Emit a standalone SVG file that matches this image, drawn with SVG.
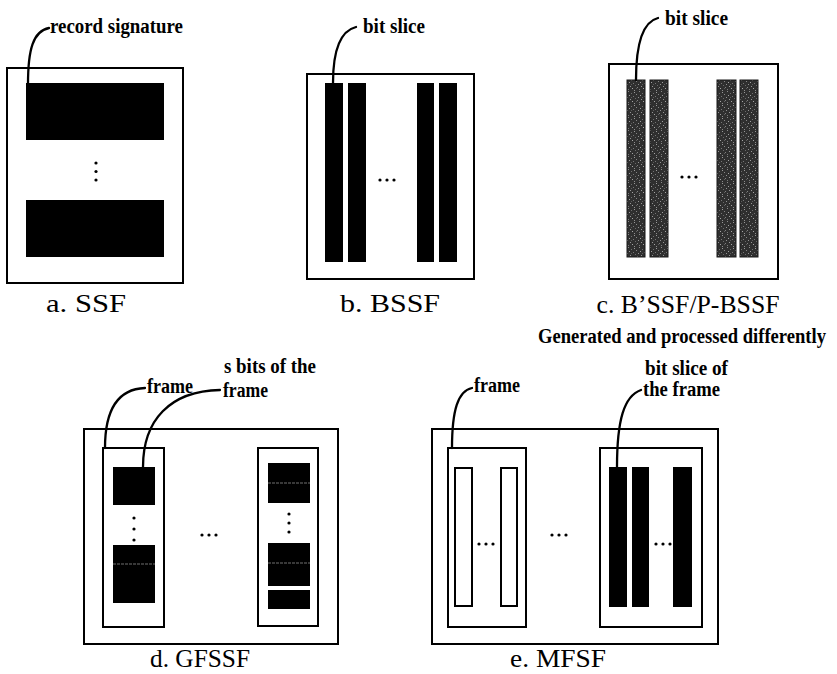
<svg xmlns="http://www.w3.org/2000/svg" width="837" height="674" viewBox="0 0 837 674">
  <style>
    .box { fill: #fff; stroke: #000; stroke-width: 2; }
    .bar { fill: #000; }
    .grey { fill: url(#grain); stroke: #1a1a1a; stroke-width: 1; }
    .hollow { fill: #fff; stroke: #000; stroke-width: 2; }
    .seam { stroke: #bdbdbd; stroke-width: 0.6; stroke-dasharray: 3 1; }
    .dot { fill: #000; }
    .cap { font-family: "Liberation Serif", "Times New Roman", serif; font-size: 26px; fill: #000; text-anchor: middle; }
    .note { font-family: "Liberation Serif", "Times New Roman", serif; font-size: 20px; font-weight: bold; fill: #000; }
    .lead { fill: none; stroke: #000; stroke-width: 2.3; stroke-linecap: round; }
  </style>
  <defs>
    <!-- fine speckled grey for the differently generated slices -->
    <pattern id="grain" width="11" height="13" patternUnits="userSpaceOnUse">
      <rect width="11" height="13" fill="#2f2f2f"/>
      <rect x="1" y="0" width="1" height="1" fill="#8a8a8a"/>
      <rect x="7" y="1" width="1" height="1" fill="#9a9a9a"/>
      <rect x="4" y="2" width="1" height="1" fill="#6f6f6f"/>
      <rect x="9" y="3" width="1" height="1" fill="#858585"/>
      <rect x="2" y="4" width="1" height="1" fill="#a0a0a0"/>
      <rect x="6" y="5" width="1" height="1" fill="#777"/>
      <rect x="0" y="6" width="1" height="1" fill="#909090"/>
      <rect x="8" y="7" width="1" height="1" fill="#6a6a6a"/>
      <rect x="3" y="8" width="1" height="1" fill="#959595"/>
      <rect x="10" y="9" width="1" height="1" fill="#808080"/>
      <rect x="5" y="10" width="1" height="1" fill="#a5a5a5"/>
      <rect x="1" y="11" width="1" height="1" fill="#7a7a7a"/>
      <rect x="7" y="12" width="1" height="1" fill="#8c8c8c"/>
      <rect x="9" y="10" width="1" height="1" fill="#5f5f5f"/>
      <rect x="4" y="6" width="1" height="1" fill="#5c5c5c"/>
    </pattern>
  </defs>

  <rect width="837" height="674" fill="#fff"/>

  <!-- a. sequential signature file -->
  <g id="ssf">
    <rect class="box" x="7" y="68" width="176" height="215"/>
    <rect class="bar" x="26" y="83" width="138" height="57"/>
    <rect class="bar" x="26" y="200" width="138" height="57"/>
    <circle class="dot" cx="96" cy="163" r="1.6"/>
    <circle class="dot" cx="96" cy="171.5" r="1.6"/>
    <circle class="dot" cx="96" cy="180" r="1.6"/>
    <text class="note" x="50" y="33" textLength="133" lengthAdjust="spacingAndGlyphs">record signature</text>
    <text class="cap" x="86" y="312" textLength="80" lengthAdjust="spacingAndGlyphs">a. SSF</text>
  </g>

  <!-- b. bit-sliced signature file -->
  <g id="bssf">
    <rect class="box" x="307" y="74" width="167" height="205"/>
    <rect class="bar" x="325" y="83" width="18" height="179"/>
    <rect class="bar" x="348" y="83" width="18" height="179"/>
    <rect class="bar" x="417" y="83" width="17" height="179"/>
    <rect class="bar" x="439" y="83" width="18" height="179"/>
    <circle class="dot" cx="380" cy="180" r="1.6"/>
    <circle class="dot" cx="387" cy="180" r="1.6"/>
    <circle class="dot" cx="394" cy="180" r="1.6"/>
    <text class="note" x="363" y="33" textLength="62" lengthAdjust="spacingAndGlyphs">bit slice</text>
    <text class="cap" x="390" y="312" textLength="100" lengthAdjust="spacingAndGlyphs">b. BSSF</text>
  </g>

  <!-- c. B'SSF / P-BSSF -->
  <g id="pbssf">
    <rect class="box" x="609" y="64" width="169" height="215"/>
    <rect class="grey" x="627" y="80" width="18" height="177"/>
    <rect class="grey" x="650" y="80" width="18" height="177"/>
    <rect class="grey" x="717" y="80" width="19" height="177"/>
    <rect class="grey" x="740" y="80" width="18" height="177"/>
    <circle class="dot" cx="682" cy="177" r="1.6"/>
    <circle class="dot" cx="689" cy="177" r="1.6"/>
    <circle class="dot" cx="696" cy="177" r="1.6"/>
    <text class="note" x="665" y="25" textLength="63" lengthAdjust="spacingAndGlyphs">bit slice</text>
    <text class="cap" x="688" y="313" textLength="183" lengthAdjust="spacingAndGlyphs">c. B’SSF/P-BSSF</text>
    <text class="note" x="538" y="343" font-size="18" textLength="288" lengthAdjust="spacingAndGlyphs">Generated and processed differently</text>
  </g>

  <!-- d. generalized frame-sliced signature file -->
  <g id="gfssf">
    <rect class="box" x="84" y="429" width="254" height="215"/>
    <rect class="box" x="103" y="448" width="61" height="179"/>
    <rect class="bar" x="113" y="467" width="42" height="38"/>
    <rect class="bar" x="113" y="545" width="42" height="58"/>
    <line class="seam" x1="113" y1="564" x2="155" y2="564"/>
    <circle class="dot" cx="134" cy="518" r="1.6"/>
    <circle class="dot" cx="134" cy="529" r="1.6"/>
    <circle class="dot" cx="134" cy="540" r="1.6"/>
    <circle class="dot" cx="202" cy="535" r="1.6"/>
    <circle class="dot" cx="209" cy="535" r="1.6"/>
    <circle class="dot" cx="216" cy="535" r="1.6"/>
    <rect class="box" x="258" y="448" width="60" height="178"/>
    <rect class="bar" x="268" y="463" width="42" height="40"/>
    <line class="seam" x1="268" y1="483" x2="310" y2="483"/>
    <rect class="bar" x="268" y="543" width="42" height="43"/>
    <line class="seam" x1="268" y1="563" x2="310" y2="563"/>
    <rect class="bar" x="268" y="590" width="42" height="19"/>
    <circle class="dot" cx="289" cy="514" r="1.6"/>
    <circle class="dot" cx="289" cy="523" r="1.6"/>
    <circle class="dot" cx="289" cy="532" r="1.6"/>
    <text class="note" x="147" y="393" textLength="46" lengthAdjust="spacingAndGlyphs">frame</text>
    <text class="note" x="224" y="373" textLength="92" lengthAdjust="spacingAndGlyphs">s bits of the</text>
    <text class="note" x="223" y="397" textLength="45" lengthAdjust="spacingAndGlyphs">frame</text>
    <text class="cap" x="200" y="667" textLength="100" lengthAdjust="spacingAndGlyphs">d. GFSSF</text>
  </g>

  <!-- e. multi-frame signature file -->
  <g id="mfsf">
    <rect class="box" x="432" y="429" width="286" height="215"/>
    <rect class="box" x="448" y="448" width="78" height="179"/>
    <rect class="hollow" x="455" y="468" width="17" height="138"/>
    <rect class="hollow" x="501" y="468" width="16" height="138"/>
    <circle class="dot" cx="479" cy="544" r="1.6"/>
    <circle class="dot" cx="486" cy="544" r="1.6"/>
    <circle class="dot" cx="493" cy="544" r="1.6"/>
    <circle class="dot" cx="552" cy="535" r="1.6"/>
    <circle class="dot" cx="559" cy="535" r="1.6"/>
    <circle class="dot" cx="566" cy="535" r="1.6"/>
    <rect class="box" x="600" y="448" width="102" height="179"/>
    <rect class="bar" x="609" y="467" width="18" height="140"/>
    <rect class="bar" x="632" y="467" width="17" height="140"/>
    <rect class="bar" x="673" y="467" width="19" height="140"/>
    <circle class="dot" cx="656" cy="544" r="1.6"/>
    <circle class="dot" cx="663" cy="544" r="1.6"/>
    <circle class="dot" cx="670" cy="544" r="1.6"/>
    <text class="note" x="474" y="392" textLength="46" lengthAdjust="spacingAndGlyphs">frame</text>
    <text class="note" x="645" y="375" textLength="83" lengthAdjust="spacingAndGlyphs">bit slice of</text>
    <text class="note" x="643" y="396" textLength="77" lengthAdjust="spacingAndGlyphs">the frame</text>
    <text class="cap" x="558" y="667" textLength="96" lengthAdjust="spacingAndGlyphs">e. MFSF</text>
  </g>

  <!-- leader lines from labels to the parts they name -->
  <g id="connectors">
    <path class="lead" d="M28,84 C28,50 33,31 49,28"/>
    <path class="lead" d="M333,83 C333,50 340,31 356,27"/>
    <path class="lead" d="M636,80 C636,45 642,22 658,18"/>
    <path class="lead" d="M105,448 C105,410 118,389 145,388"/>
    <path class="lead" d="M143,467 C143,420 170,391 220,390"/>
    <path class="lead" d="M452,448 C452,410 458,391 472,388"/>
    <path class="lead" d="M617,467 C617,420 624,396 641,390"/>
  </g>
</svg>
